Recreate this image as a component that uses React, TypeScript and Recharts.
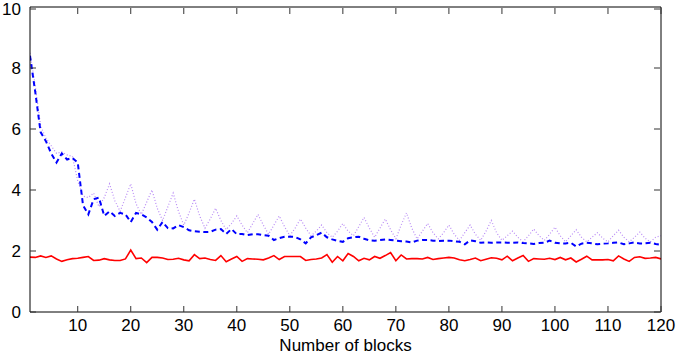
import { LineChart, Line, XAxis, YAxis } from 'recharts';

// x = number of blocks, 1..120
const blocks: number[] = Array.from({ length: 120 }, (_, i) => i + 1);

const solidRed: number[] = [
  1.80, 1.79, 1.84, 1.79, 1.84, 1.74, 1.66, 1.71, 1.75, 1.76,
  1.79, 1.82, 1.69, 1.70, 1.75, 1.71, 1.69, 1.69, 1.74, 2.03,
  1.75, 1.77, 1.62, 1.79, 1.79, 1.77, 1.72, 1.73, 1.76, 1.71,
  1.68, 1.88, 1.75, 1.77, 1.72, 1.69, 1.85, 1.65, 1.74, 1.82,
  1.66, 1.75, 1.74, 1.73, 1.71, 1.77, 1.85, 1.72, 1.82, 1.82,
  1.82, 1.82, 1.69, 1.72, 1.74, 1.77, 1.88, 1.63, 1.82, 1.68,
  1.92, 1.82, 1.68, 1.76, 1.71, 1.82, 1.76, 1.85, 1.95, 1.68,
  1.87, 1.74, 1.75, 1.75, 1.74, 1.79, 1.72, 1.75, 1.77, 1.79,
  1.77, 1.71, 1.68, 1.72, 1.77, 1.68, 1.73, 1.78, 1.76, 1.71,
  1.83, 1.68, 1.77, 1.85, 1.66, 1.75, 1.74, 1.73, 1.76, 1.72,
  1.79, 1.71, 1.77, 1.64, 1.73, 1.83, 1.71, 1.71, 1.71, 1.72,
  1.68, 1.84, 1.74, 1.66, 1.79, 1.81, 1.76, 1.77, 1.79, 1.74,
];

const dashedBlue: number[] = [
  8.40, 7.20, 5.90, 5.60, 5.20, 4.90, 5.20, 5.00, 5.05, 4.90,
  3.50, 3.20, 3.70, 3.75, 3.15, 3.30, 3.15, 3.25, 3.20, 2.95,
  3.25, 3.20, 3.10, 2.95, 2.70, 2.95, 2.75, 2.74, 2.85, 2.78,
  2.68, 2.65, 2.63, 2.62, 2.63, 2.70, 2.72, 2.56, 2.72, 2.55,
  2.56, 2.52, 2.55, 2.55, 2.52, 2.50, 2.36, 2.42, 2.47, 2.47,
  2.46, 2.38, 2.25, 2.45, 2.52, 2.60, 2.45, 2.38, 2.33, 2.30,
  2.42, 2.45, 2.47, 2.40, 2.35, 2.34, 2.36, 2.38, 2.36, 2.34,
  2.32, 2.31, 2.28, 2.34, 2.36, 2.36, 2.34, 2.33, 2.34, 2.34,
  2.32, 2.30, 2.22, 2.35, 2.32, 2.27, 2.28, 2.27, 2.28, 2.28,
  2.27, 2.27, 2.28, 2.26, 2.25, 2.23, 2.26, 2.27, 2.34, 2.27,
  2.25, 2.25, 2.27, 2.15, 2.24, 2.27, 2.25, 2.22, 2.24, 2.25,
  2.27, 2.28, 2.22, 2.25, 2.28, 2.25, 2.25, 2.27, 2.23, 2.20,
];

const dottedPurple: number[] = [
  8.50, 7.40, 6.10, 5.70, 5.45, 5.20, 5.25, 5.15, 5.10, 4.30,
  3.80, 3.75, 3.90, 3.45, 3.75, 4.20, 3.65, 3.30, 3.75, 4.20,
  3.55, 3.20, 3.60, 4.00, 3.40, 3.00, 3.45, 3.90, 3.30, 2.85,
  3.25, 3.70, 3.15, 2.75, 3.05, 3.40, 3.00, 2.70, 2.90, 3.15,
  2.85, 2.60, 2.90, 3.20, 2.85, 2.55, 2.85, 3.15, 2.80, 2.50,
  2.75, 3.05, 2.75, 2.50, 2.65, 2.85, 2.60, 2.45, 2.65, 2.90,
  2.65, 2.50, 2.80, 3.10, 2.75, 2.45, 2.75, 3.05, 2.70, 2.40,
  2.85, 3.25, 2.75, 2.40, 2.65, 2.90, 2.60, 2.40, 2.60, 2.85,
  2.55, 2.35, 2.60, 2.85, 2.55, 2.35, 2.65, 3.00, 2.60, 2.35,
  2.50, 2.65, 2.45, 2.30, 2.50, 2.72, 2.50, 2.35, 2.55, 2.78,
  2.50, 2.30, 2.50, 2.70, 2.45, 2.30, 2.45, 2.60, 2.42, 2.30,
  2.50, 2.68, 2.45, 2.30, 2.45, 2.62, 2.42, 2.30, 2.45, 2.50,
];

const xTicks = [10, 20, 30, 40, 50, 60, 70, 80, 90, 100, 110, 120];
const yTicks = [0, 2, 4, 6, 8, 10];

const rows = blocks.map((n, i) => ({
  n,
  red: solidRed[i],
  blue: dashedBlue[i],
  purple: dottedPurple[i],
}));

const FONT = '"Liberation Sans", Arial, Helvetica, sans-serif';
const TICK_LEN = 6;
const TICK_COLOR = '#333';

const BottomTick = ({ x, y, payload }: any) => (
  <g>
    <line x1={x} x2={x} y1={y} y2={y - TICK_LEN} stroke={TICK_COLOR} />
    <text x={x} y={y + 13} textAnchor="middle" dominantBaseline="central"
      fontFamily={FONT} fontSize={17} fill="#000">
      {payload.value}
    </text>
  </g>
);

// top axis sits 1px above the plot, so the tick starts one pixel lower
const TopTick = ({ x, y }: any) => (
  <line x1={x} x2={x} y1={y + 1} y2={y + 1 + TICK_LEN} stroke={TICK_COLOR} />
);

const LeftTick = ({ x, y, payload }: any) => (
  <g>
    <line x1={x} x2={x + TICK_LEN} y1={y} y2={y} stroke={TICK_COLOR} />
    <text x={x - 9} y={y} textAnchor="end" dominantBaseline="central"
      fontFamily={FONT} fontSize={17} fill="#000">
      {payload.value}
    </text>
  </g>
);

const RightTick = ({ x, y }: any) => (
  <line x1={x - 1} x2={x - 1 - TICK_LEN} y1={y} y2={y} stroke={TICK_COLOR} />
);

export default function App() {
  return (
    <div style={{ position: 'absolute', left: 0, top: 0, width: 677, height: 355, background: '#fff' }}>
      <LineChart width={677} height={355} data={rows}
        margin={{ top: 6, right: 15, bottom: 0, left: 0 }}>
        <XAxis dataKey="n" type="number" domain={[1, 120]} ticks={xTicks}
          allowDataOverflow height={43} tickSize={0} tickMargin={0}
          tick={<BottomTick />} axisLine={{ stroke: '#000' }} tickLine={false}
          label={{ value: 'Number of blocks', position: 'insideBottom', offset: 4,
            style: { fontFamily: FONT, fontSize: 17, fill: '#000' } }} />
        <XAxis xAxisId="top" orientation="top" dataKey="n" type="number" domain={[1, 120]}
          ticks={xTicks} allowDataOverflow height={1} tickSize={0} tickMargin={0}
          tick={<TopTick />} axisLine={{ stroke: '#000' }} tickLine={false} />
        <YAxis type="number" domain={[0, 10]} ticks={yTicks} allowDataOverflow width={30}
          tickSize={0} tickMargin={0} tick={<LeftTick />} axisLine={{ stroke: '#000' }}
          tickLine={false} />
        <YAxis yAxisId="right" orientation="right" type="number" domain={[0, 10]} ticks={yTicks}
          allowDataOverflow width={1} tickSize={0} tickMargin={0} tick={<RightTick />}
          axisLine={{ stroke: '#000' }} tickLine={false} />
        <Line xAxisId="top" yAxisId="right" dataKey="purple" type="linear" stroke="#b98cf5"
          strokeWidth={1.2} strokeDasharray="1 2" dot={false} isAnimationActive={false} />
        <Line dataKey="blue" type="linear" stroke="#0000ff" strokeWidth={2}
          strokeDasharray="5 3.5" dot={false} isAnimationActive={false} />
        <Line dataKey="red" type="linear" stroke="#ff0000" strokeWidth={1.6}
          dot={false} isAnimationActive={false} />
      </LineChart>
    </div>
  );
}
